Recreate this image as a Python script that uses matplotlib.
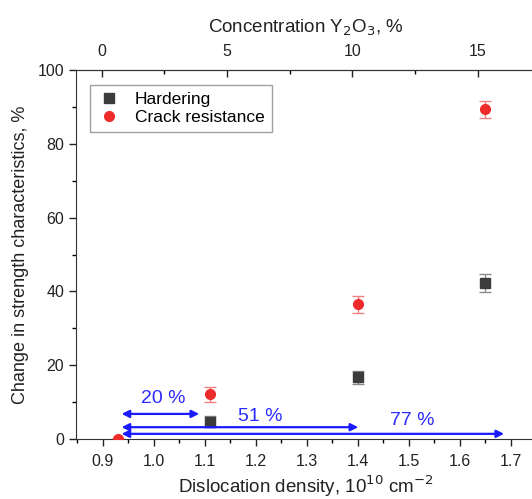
import matplotlib
matplotlib.use("Agg")
import matplotlib.pyplot as plt
import numpy as np

plt.rcParams['font.family'] = ['Liberation Sans', 'DejaVu Sans']

# Data
dens_hard = [1.11, 1.40, 1.65]
hard = [4.7, 16.7, 42.2]
hard_err = [1.5, 1.8, 2.4]

dens_crack = [0.93, 1.11, 1.40, 1.65]
crack = [0.0, 12.1, 36.5, 89.3]
crack_err = [0.0, 2.0, 2.3, 2.3]

# Arrows
arrow_x0 = [0.937, 0.937, 0.937]
arrow_x1 = [1.089, 1.401, 1.687]
arrow_y = [6.8, 3.2, 1.4]
arrow_labels = ['20 %', '51 %', '77 %']
label_x = [1.018, 1.209, 1.506]
label_y = [11.0, 6.2, 5.0]

conc_ticks = [0, 5, 10, 15]

def dens2conc(d):
    return (np.asarray(d) - 0.898) / 0.04916

def conc2dens(c):
    return 0.898 + 0.04916 * np.asarray(c)

fig = plt.figure(figsize=(5.32, 4.99), dpi=100)
ax = fig.add_axes([76/532, 60/499, (536.2-76)/532, 369/499])

ax.errorbar(dens_hard, hard, yerr=hard_err, fmt='none',
            ecolor='#8a8a8a', elinewidth=1, capsize=4, capthick=1, zorder=2)
ax.plot(dens_hard, hard, 's', color='#3c3c3c', ms=6.5, label='Hardering', zorder=3)
ax.errorbar(dens_crack, crack, yerr=crack_err, fmt='none',
            ecolor='#f08080', elinewidth=1, capsize=4, capthick=1, zorder=2)
ax.plot(dens_crack, crack, 'o', color='#ee2b2b', ms=7, label='Crack resistance', zorder=3)

for x0, x1, y in zip(arrow_x0, arrow_x1, arrow_y):
    ax.annotate('', xy=(x1, y), xytext=(x0, y),
                arrowprops=dict(arrowstyle='<|-|>', color='#1a1aff', lw=1.6,
                                mutation_scale=11, shrinkA=0, shrinkB=0))
for t, x, y in zip(arrow_labels, label_x, label_y):
    ax.text(x, y, t, color='#2b2bff', fontsize=14, ha='center', va='center')

ax.set_xlim(0.8476, 1.75)
ax.set_ylim(0, 100)
ax.set_xticks(np.arange(0.9, 1.71, 0.1))
ax.set_xticks(np.arange(0.85, 1.751, 0.05), minor=True)
ax.set_xticklabels([f'{v:.1f}' for v in np.arange(0.9, 1.71, 0.1)])
ax.set_yticks(np.arange(0, 101, 20))
ax.set_yticks(np.arange(0, 101, 10), minor=True)
ax.tick_params(axis='both', which='major', direction='out', length=5, width=1,
               labelsize=11.5, colors='#222222')
ax.tick_params(axis='x', which='major', pad=6)
ax.tick_params(axis='both', which='minor', direction='out', length=3, width=1)
ax.spines['right'].set_visible(False)
for s in ['left', 'bottom', 'top']:
    ax.spines[s].set_color('#333333')

ax.set_xlabel('Dislocation density, 10$^{10}$ cm$^{-2}$', fontsize=13.5, color='#222222', labelpad=3)
ax.set_ylabel('Change in strength characteristics, %', fontsize=13, color='#222222', labelpad=6)

top = ax.secondary_xaxis('top', functions=(dens2conc, conc2dens))
top.set_xticks(conc_ticks)
top.set_xticks(np.arange(0, 17.5, 2.5), minor=True)
top.tick_params(axis='x', which='major', direction='in', length=5, width=1,
                labelsize=11.5, colors='#222222', pad=8)
top.tick_params(axis='x', which='minor', direction='in', length=3, width=1)
top.set_xlabel('Concentration Y$_2$O$_3$, %', fontsize=13.5, color='#222222', labelpad=8)

leg = ax.legend(loc='upper left', bbox_to_anchor=(0.03, 0.96), fontsize=12.5,
                frameon=True, fancybox=False, edgecolor='#888888',
                handletextpad=0.8, borderpad=0.4, labelspacing=0.15,
                handlelength=1.4, borderaxespad=0.0)
leg.get_frame().set_linewidth(1)

fig.savefig('out.png', dpi=100)
